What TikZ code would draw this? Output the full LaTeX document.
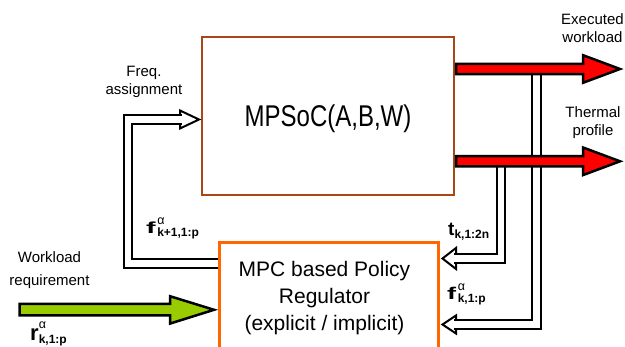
\documentclass[tikz,border=0pt]{standalone}
\usepackage{fontspec}
\setmainfont{Liberation Sans}
\usetikzlibrary{calc}
\definecolor{mpsocbrown}{RGB}{168,72,24}
\definecolor{mpcorange}{RGB}{255,102,0}
\definecolor{flowred}{RGB}{255,0,0}
\definecolor{flowgreen}{RGB}{153,204,0}
\newcommand{\varlab}[7]{{\fontsize{#1}{#1}\selectfont\bfseries\scalebox{#2}[1]{#3}}\kern#7\makebox[0pt][l]{\raisebox{#4}{\fontsize{12.5}{12.5}\selectfont #5}}\raisebox{-2.5pt}{\fontsize{12}{12}\selectfont\bfseries #6}}
\begin{document}
\begin{tikzpicture}[x=1pt,y=-1pt,line join=miter,
  pipe/.style={draw=black,line width=2pt,double=white,double distance=6.5pt},
  hollowhead/.style={draw=black,fill=white,line width=2pt},
  bigarrow/.style={draw=black,line width=2.5pt},
  txt/.style={font=\fontsize{15}{18}\selectfont,align=center,inner sep=0pt},
  lbl/.style={anchor=base west,inner sep=0pt}]
\useasboundingbox (0,0) rectangle (625,347);
% blocks
\node[draw=mpsocbrown,line width=2pt,minimum width=252pt,minimum height=158pt,anchor=north west,inner sep=0pt] (mpsoc) at (201,36) {};
\node[draw=mpcorange,line width=3pt,minimum width=219pt,minimum height=130pt,anchor=north west,inner sep=0pt] (mpc) at (218,241.5) {};
\node[anchor=base,inner sep=0pt] (mpsoclabel) at (328,127) {\scalebox{1}[1.25]{\fontsize{24}{24}\selectfont MPSoC(A,B,W)}};
\node[inner sep=0pt,align=center,font=\fontsize{21}{27}\selectfont] (mpclabel) at (324.5,298.3) {MPC based Policy\\Regulator\\(explicit / implicit)};
% coordinates
\coordinate (fqtip) at (mpsoc.west |- 0,119.5);
\coordinate (ttip) at (mpc.east |- 0,258.5);
\coordinate (fktip) at (mpc.east |- 0,324.5);
\coordinate (tsplit) at (501,161.3);
\coordinate (fsplit) at (536.5,69);
\coordinate (fqturn) at (128,119.5);
% hollow heads
\draw[hollowhead] ($(fqtip)+(-2,0)$) -- ++(-19,-9) -- ++(0,18) -- cycle;
\draw[hollowhead] ($(ttip)+(2.5,0)$) -- ++(13.5,-10.5) -- ++(0,21) -- cycle;
\draw[hollowhead] ($(fktip)+(2.5,0)$) -- ++(13.5,-9) -- ++(0,18) -- cycle;
% pipes
\draw[pipe] (mpc.west |- 0,263.5) -| (fqturn) -- ($(fqtip)+(-19,0)$);
\draw[pipe] (tsplit) |- ($(ttip)+(14,0)$);
\draw[pipe] (fsplit) |- ($(fktip)+(14,0)$);
% red arrows
\draw[bigarrow,fill=flowred] ($(mpsoc.east |- 0,63.9)+(1,0)$) -- (583,63.9) -- (583,55.2) -- (620,69) -- (583,82.8) -- (583,74.1) -- ($(mpsoc.east |- 0,74.1)+(1,0)$) -- cycle;
\draw[bigarrow,fill=flowred] ($(mpsoc.east |- 0,156.2)+(1,0)$) -- (583,156.2) -- (583,147.5) -- (620,161.3) -- (583,175.1) -- (583,166.4) -- ($(mpsoc.east |- 0,166.4)+(1,0)$) -- cycle;
% green arrow
\draw[bigarrow,fill=flowgreen] (19.5,303.9) -- (170,303.9) -- (170,296.2) -- ($(mpc.west |- 0,309.8)+(-4,0)$) -- (170,323.6) -- (170,315.5) -- (19.5,315.5) -- cycle;
% texts
\node[txt] (freqtxt) at (144,82.2) {Freq.\\assignment};
\node[txt] (exectxt) at (592.5,28.5) {Executed\\workload};
\node[txt] (thermtxt) at (593,123) {Thermal\\profile};
\node[txt,font=\fontsize{15}{23}\selectfont] (wltxt) at (49.5,270.5) {Workload\\requirement};
% variable labels
\node[lbl] (fnext) at (146,234) {\varlab{16}{1.8}{f}{9pt}{α}{k+1,1:p}{1.5pt}};
\node[lbl] (tk) at (448,236) {\varlab{19}{1}{t}{0pt}{}{k,1:2n}{0pt}};
\node[lbl] (fk) at (447,300) {\varlab{17}{1.6}{f}{9pt}{α}{k,1:p}{1.5pt}};
\node[lbl] (rk) at (30,341) {\varlab{22}{1}{r}{12.5pt}{α}{k,1:p}{0pt}};
\end{tikzpicture}
\end{document}
